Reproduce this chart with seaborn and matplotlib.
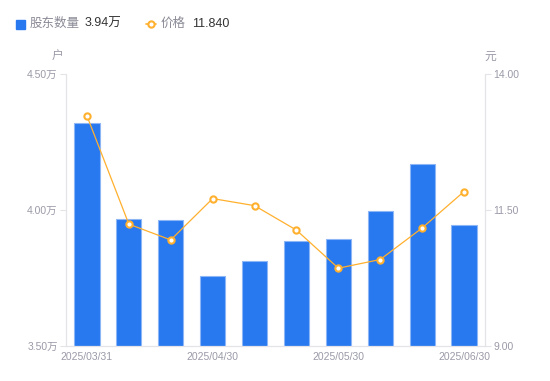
import pandas as pd
import matplotlib.pyplot as plt
import seaborn as sns

dates = ["2025/03/31", "2025/04/10", "2025/04/20", "2025/04/30", "2025/05/10",
         "2025/05/20", "2025/05/30", "2025/06/10", "2025/06/20", "2025/06/30"]
holders = [4.32, 3.968, 3.962, 3.757, 3.811, 3.885, 3.892, 3.995, 4.168, 3.944]  # 万户
price = [13.23, 11.24, 10.95, 11.71, 11.58, 11.13, 10.43, 10.59, 11.17, 11.84]
shown_dates = ["2025/03/31", "2025/04/30", "2025/05/30", "2025/06/30"]

df = pd.DataFrame({"date": dates, "holders": holders, "price": price})
df["pos"] = range(len(df))

sns.set_style("white")
plt.rcParams["font.family"] = ["Liberation Sans", "Noto Sans CJK SC", "DejaVu Sans"]

BLUE = "#2878F0"
ORANGE = "#FFB02E"
GRAY = "#9A9AA8"
AXIS = "#E3E3E8"

fig = plt.figure(figsize=(5.5, 3.81), dpi=100)
ax = fig.add_axes([66 / 550, 1 - 346 / 381, (485 - 66) / 550, (346 - 74) / 381])

sns.barplot(data=df, x="pos", y="holders", ax=ax, color=BLUE, width=0.6,
            edgecolor="#8DB6F7", linewidth=0.8, saturation=1)
ax.set_ylim(3.5, 4.5)
ax.set_xlim(-0.5, len(df) - 0.5)
ax.set_yticks([3.5, 4.0, 4.5])
ax.set_yticklabels(["3.50万", "4.00万", "4.50万"])
ax.set_xticks([dates.index(d) for d in shown_dates])
ax.set_xticklabels(shown_dates)
ax.set_xlabel("")
ax.set_ylabel("")

ax2 = ax.twinx()
sns.lineplot(data=df, x="pos", y="price", ax=ax2, color=ORANGE, linewidth=0.9,
             marker="o", markersize=4.5, markerfacecolor="white",
             markeredgecolor=ORANGE, markeredgewidth=1.5)
ax2.set_ylim(9, 14)
ax2.set_yticks([9, 11.5, 14])
ax2.set_yticklabels(["9.00", "11.50", "14.00"])
ax2.set_xlim(-0.5, len(df) - 0.5)
ax2.set_ylabel("")
ax2.set_xlabel("")

for a in (ax, ax2):
    for s in a.spines.values():
        s.set_visible(False)
ax.spines["left"].set_visible(True)
ax.spines["bottom"].set_visible(True)
ax2.spines["right"].set_visible(True)
for s in (ax.spines["left"], ax.spines["bottom"], ax2.spines["right"]):
    s.set_color(AXIS)
    s.set_linewidth(0.9)

ax.tick_params(axis="y", length=4, width=0.8, color=AXIS, labelsize=7.5, labelcolor=GRAY, pad=2)
ax.tick_params(axis="x", length=0, labelsize=7.5, labelcolor=GRAY, pad=4)
ax2.tick_params(axis="y", length=4, width=0.8, color=AXIS, labelsize=7.5, labelcolor=GRAY, pad=2)

fig.text(58 / 550, 1 - 57 / 381, "户", fontsize=8.5, color=GRAY, ha="center", va="center")
fig.text(490 / 550, 1 - 57 / 381, "元", fontsize=8.5, color=GRAY, ha="center", va="center")

# legend header
fig.patches.append(plt.Rectangle((16 / 550, 1 - 29 / 381), 9 / 550, 9 / 381,
                                 transform=fig.transFigure, color=BLUE))
fig.text(30 / 550, 1 - 24 / 381, "股东数量", fontsize=9, color="#8A8A96", va="center")
fig.text(85 / 550, 1 - 24 / 381, "3.94万", fontsize=9, color="#333333", va="center")
fig.lines.append(plt.Line2D([146 / 550, 156 / 550], [1 - 24 / 381] * 2, transform=fig.transFigure,
                            color=ORANGE, linewidth=1.2))
fig.lines.append(plt.Line2D([151 / 550], [1 - 24 / 381], transform=fig.transFigure,
                            color=ORANGE, marker="o", markersize=4.5, markerfacecolor="white",
                            markeredgewidth=1.5, linestyle="none"))
fig.text(161 / 550, 1 - 24 / 381, "价格", fontsize=9, color="#8A8A96", va="center")
fig.text(192 / 550, 1 - 24 / 381, "11.840", fontsize=9, color="#333333", va="center")

fig.savefig("out.png", dpi=100)
